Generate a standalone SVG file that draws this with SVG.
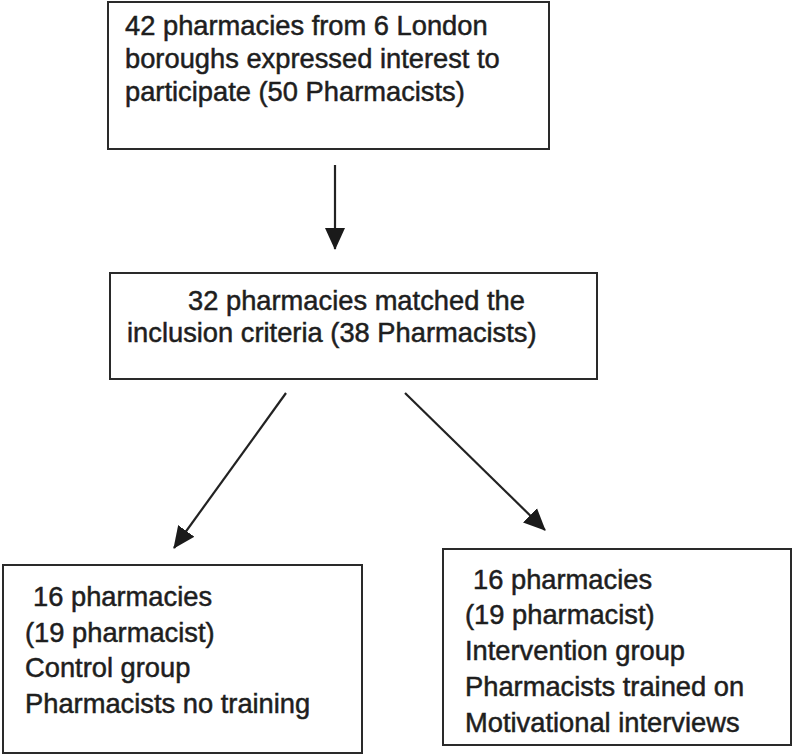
<svg xmlns="http://www.w3.org/2000/svg" width="793" height="756" viewBox="0 0 793 756">
<style>
.box{fill:#fff;stroke:#2a2a2a;stroke-width:2}
.t{font-family:"Liberation Sans",Arial,sans-serif;font-size:27.3px;fill:#1e1e1e;stroke:#1e1e1e;stroke-width:0.5}
.c{stroke:#222;stroke-width:2.2;fill:none}
</style>
<defs>
<marker id="ah" markerUnits="userSpaceOnUse" markerWidth="22" markerHeight="22" viewBox="0 0 22 22" refX="21" refY="11" orient="auto">
<path d="M0,1 L22,11 L0,21 Z" fill="#1a1a1a"/>
</marker>
</defs>
<rect width="793" height="756" fill="#fff"/>
<g id="n1">
<rect class="box" x="108" y="2" width="441" height="147"/>
<text class="t" x="125" y="35">42 pharmacies from 6 London</text>
<text class="t" x="125" y="68">boroughs expressed interest to</text>
<text class="t" x="125" y="101">participate (50 Pharmacists)</text>
</g>
<g id="n2">
<rect class="box" x="110" y="273" width="487" height="106"/>
<text class="t" x="188" y="310">32 pharmacies matched the</text>
<text class="t" x="127" y="342">inclusion criteria (38 Pharmacists)</text>
</g>
<g id="n3">
<rect class="box" x="3" y="565" width="359" height="188"/>
<text class="t" x="33" y="606">16 pharmacies</text>
<text class="t" x="25" y="642">(19 pharmacist)</text>
<text class="t" x="25" y="677">Control group</text>
<text class="t" x="25" y="713">Pharmacists no training</text>
</g>
<g id="n4">
<rect class="box" x="443" y="549" width="348" height="196"/>
<text class="t" x="473" y="589">16 pharmacies</text>
<text class="t" x="465" y="624">(19 pharmacist)</text>
<text class="t" x="465" y="660">Intervention group</text>
<text class="t" x="465" y="696">Pharmacists trained on</text>
<text class="t" x="465" y="732">Motivational interviews</text>
</g>
<g id="connectors">
<line class="c" x1="335" y1="165" x2="335" y2="249" marker-end="url(#ah)"/>
<line class="c" x1="286" y1="393" x2="174" y2="548" marker-end="url(#ah)"/>
<line class="c" x1="405" y1="393" x2="545" y2="530" marker-end="url(#ah)"/>
</g>
</svg>
